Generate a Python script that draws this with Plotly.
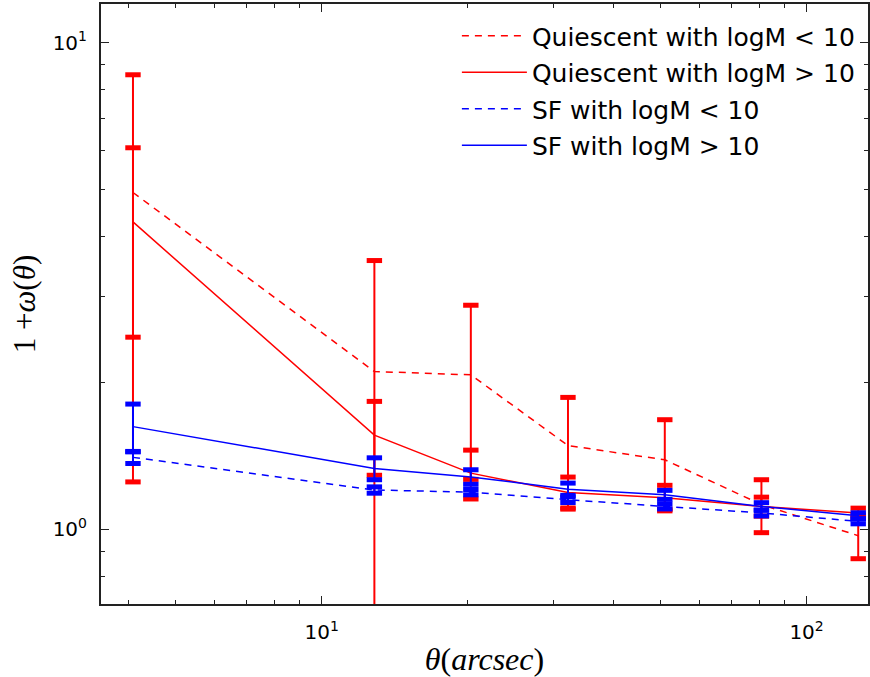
import plotly.graph_objects as go
import numpy as np

# ---- data ----
theta = [4.08, 12.84, 20.3, 32.2, 51.0, 80.7, 127.8]

q_low = [4.92, 2.108, 2.075, 1.485, 1.388, 1.123, 0.969]
q_low_err = [3.67, 1.457, 0.81, 0.38, 0.29, 0.14, 0.10]

q_high = [4.28, 1.56, 1.303, 1.189, 1.160, 1.113, 1.079]
q_high_err = [1.80, 0.27, 0.15, 0.09, 0.07, 0.05, 0.025]

sf_low = [1.404, 1.203, 1.191, 1.149, 1.113, 1.079, 1.037]
sf_low_err = [0.04, 0.018, 0.015, 0.015, 0.013, 0.015, 0.012]

sf_high = [1.624, 1.332, 1.28, 1.208, 1.176, 1.113, 1.065]
sf_high_err = [0.183, 0.069, 0.044, 0.035, 0.025, 0.02, 0.015]

series_names = ["Quiescent with logM < 10", "Quiescent with logM > 10",
                "SF with logM < 10", "SF with logM > 10"]

x_tickvals = [10, 100]
x_ticktext = ["10<sup>1</sup>", "10<sup>2</sup>"]
y_tickvals = [1, 10]
y_ticktext = ["10<sup>0</sup>", "10<sup>1</sup>"]
x_minor = [4, 5, 6, 7, 8, 9, 20, 30, 40, 50, 60, 70, 80, 90]
y_minor = [0.7, 0.8, 0.9, 2, 3, 4, 5, 6, 7, 8, 9]

RED = "#ff0000"
BLUE = "#0000ff"

series = [
    (series_names[0], q_low, q_low_err, RED, "7px,6px"),
    (series_names[1], q_high, q_high_err, RED, "solid"),
    (series_names[2], sf_low, sf_low_err, BLUE, "7px,6px"),
    (series_names[3], sf_high, sf_high_err, BLUE, "solid"),
]

fig = go.Figure()
for i, (name, vals, errs, col, dash) in enumerate(series):
    v = np.array(vals)
    e = np.array(errs)
    fig.add_trace(go.Scatter(
        x=theta, y=vals, mode="lines", name=name,
        legendgroup=f"g{i}",
        line=dict(color=col, width=1.5, dash=dash),
        error_y=dict(type="data", array=errs, color=col, thickness=2, width=0),
        hoverinfo="skip",
    ))
    caps_y = np.concatenate([v + e, v - e])
    caps_x = theta + theta
    fig.add_trace(go.Scatter(
        x=caps_x, y=caps_y.tolist(), mode="markers", showlegend=False,
        marker=dict(symbol="line-ew", size=11, line=dict(color=col, width=5)),
        hoverinfo="skip", cliponaxis=True,
    ))

axis_common = dict(
    type="log", showgrid=False, zeroline=False,
    showline=True, linecolor="#222222", linewidth=2, mirror="allticks",
    ticks="inside", ticklen=8, tickwidth=1, tickcolor="#222222",
    tickfont=dict(family="DejaVu Sans", size=20, color="black"),
)

fig.update_xaxes(
    **axis_common,
    range=[0.5447, 2.1267],
    tickmode="array", tickvals=x_tickvals, ticktext=x_ticktext,
    ticklabelstandoff=9,
    minor=dict(tickmode="array", tickvals=x_minor, ticks="inside", ticklen=4,
               tickwidth=1, tickcolor="#222222", showgrid=False),
    title=dict(text="<i>θ</i>(<i>arcsec</i>)",
               font=dict(family="Liberation Serif", size=32, color="black"),
               standoff=6),
)
fig.update_yaxes(
    **axis_common,
    range=[-0.1541, 1.0795],
    tickmode="array", tickvals=y_tickvals, ticktext=y_ticktext,
    ticklabelstandoff=8,
    minor=dict(tickmode="array", tickvals=y_minor, ticks="inside", ticklen=4,
               tickwidth=1, tickcolor="#222222", showgrid=False),
    title=dict(text="1 +<i>ω</i>(<i>θ</i>)",
               font=dict(family="Liberation Serif", size=31, color="black"),
               standoff=8),
)

fig.update_layout(
    width=870, height=677,
    margin=dict(l=101, r=0, t=4, b=73),
    paper_bgcolor="white", plot_bgcolor="white",
    legend=dict(
        x=0.464, y=0.985, xanchor="left", yanchor="top",
        font=dict(family="DejaVu Sans", size=25, color="black"),
        bgcolor="rgba(0,0,0,0)", borderwidth=0,
        tracegroupgap=1, itemwidth=65,
    ),
    showlegend=True,
)

fig.write_html("out.html", config={"displayModeBar": False})
